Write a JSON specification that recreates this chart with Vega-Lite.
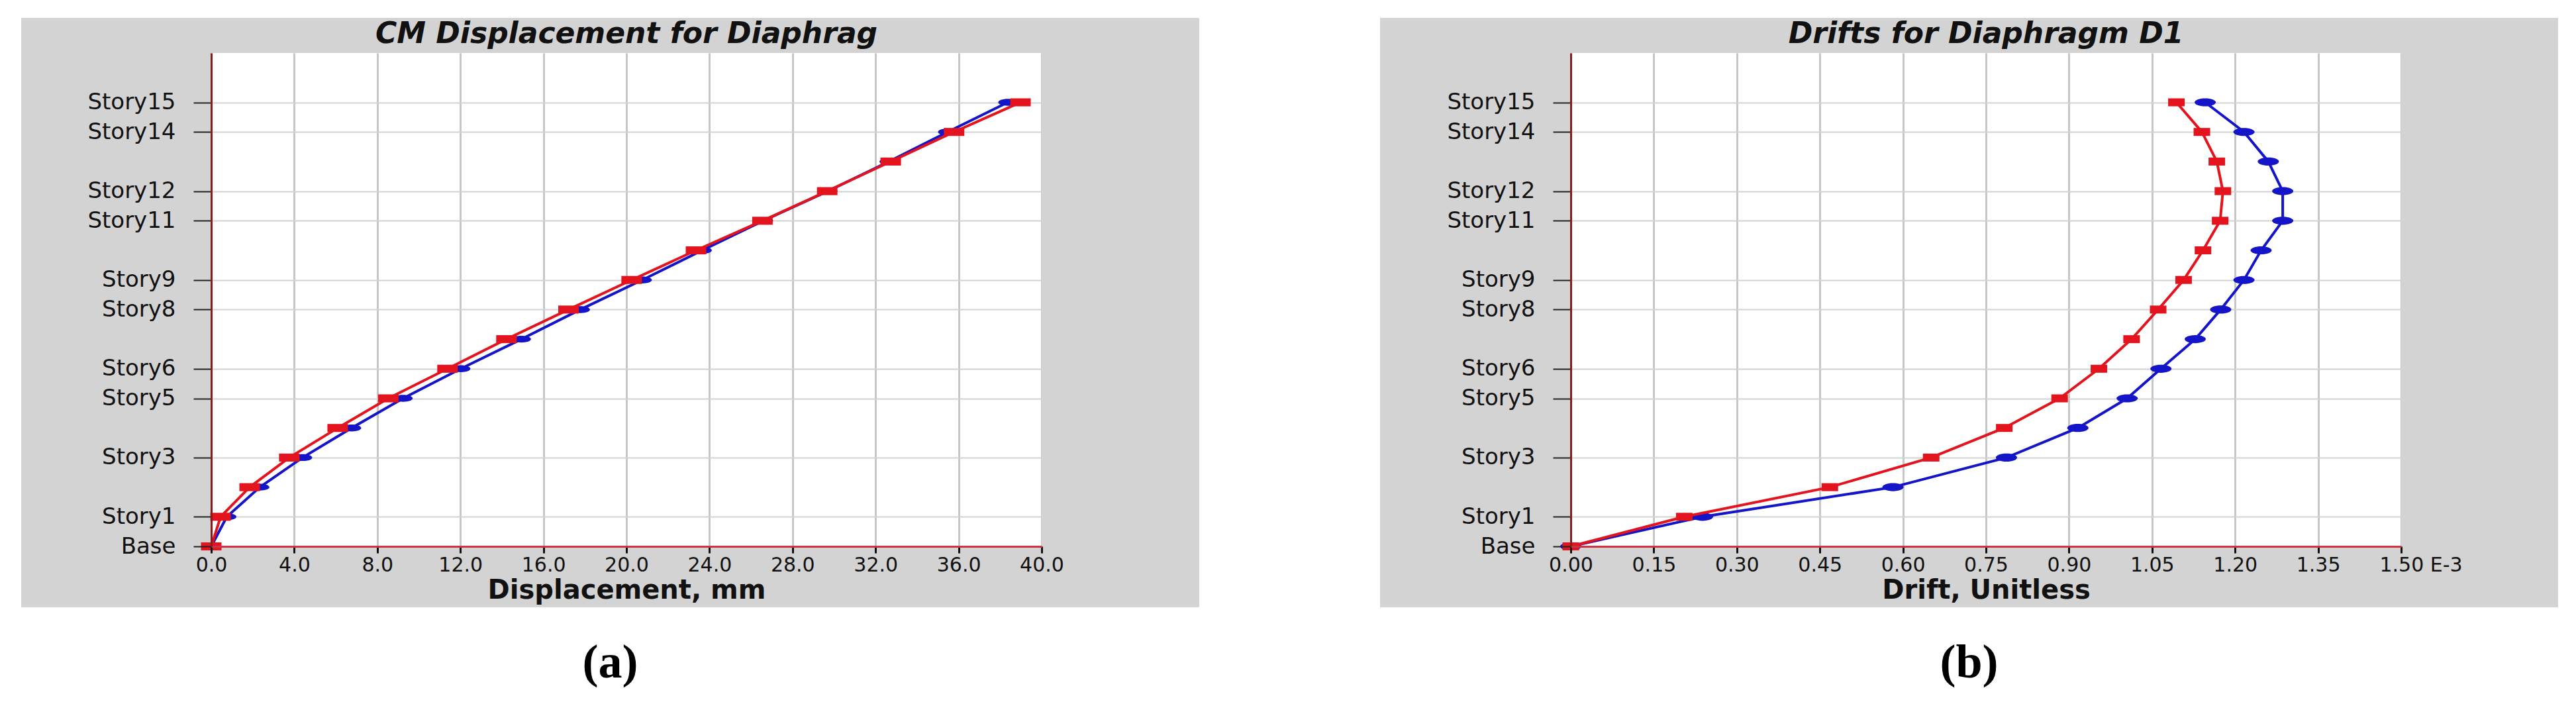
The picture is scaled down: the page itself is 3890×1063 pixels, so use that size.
{
  "$schema": "https://vega.github.io/schema/vega-lite/v6.json",
  "background": "white",
  "padding": {"left": 31, "top": 27, "right": 0, "bottom": 20},
  "spacing": 272,
  "config": {"view": {"stroke": null}},
  "datasets": {
    "disp": [
      {"level": 0, "story": "Base", "dir": "X", "value": 0},
      {"level": 1, "story": "Story1", "dir": "X", "value": 0.75},
      {"level": 2, "story": "Story2", "dir": "X", "value": 2.34},
      {"level": 3, "story": "Story3", "dir": "X", "value": 4.4},
      {"level": 4, "story": "Story4", "dir": "X", "value": 6.76},
      {"level": 5, "story": "Story5", "dir": "X", "value": 9.24},
      {"level": 6, "story": "Story6", "dir": "X", "value": 12.02},
      {"level": 7, "story": "Story7", "dir": "X", "value": 14.94},
      {"level": 8, "story": "Story8", "dir": "X", "value": 17.78},
      {"level": 9, "story": "Story9", "dir": "X", "value": 20.76},
      {"level": 10, "story": "Story10", "dir": "X", "value": 23.65},
      {"level": 11, "story": "Story11", "dir": "X", "value": 26.6},
      {"level": 12, "story": "Story12", "dir": "X", "value": 29.7},
      {"level": 13, "story": "Story13", "dir": "X", "value": 32.65},
      {"level": 14, "story": "Story14", "dir": "X", "value": 35.47},
      {"level": 15, "story": "Story15", "dir": "X", "value": 38.37},
      {"level": 0, "story": "Base", "dir": "Y", "value": 0},
      {"level": 1, "story": "Story1", "dir": "Y", "value": 0.45},
      {"level": 2, "story": "Story2", "dir": "Y", "value": 1.85},
      {"level": 3, "story": "Story3", "dir": "Y", "value": 3.76},
      {"level": 4, "story": "Story4", "dir": "Y", "value": 6.09},
      {"level": 5, "story": "Story5", "dir": "Y", "value": 8.53},
      {"level": 6, "story": "Story6", "dir": "Y", "value": 11.38},
      {"level": 7, "story": "Story7", "dir": "Y", "value": 14.22},
      {"level": 8, "story": "Story8", "dir": "Y", "value": 17.21},
      {"level": 9, "story": "Story9", "dir": "Y", "value": 20.25},
      {"level": 10, "story": "Story10", "dir": "Y", "value": 23.35},
      {"level": 11, "story": "Story11", "dir": "Y", "value": 26.55},
      {"level": 12, "story": "Story12", "dir": "Y", "value": 29.67},
      {"level": 13, "story": "Story13", "dir": "Y", "value": 32.73},
      {"level": 14, "story": "Story14", "dir": "Y", "value": 35.78},
      {"level": 15, "story": "Story15", "dir": "Y", "value": 38.98}
    ],
    "drift": [
      {"level": 0, "story": "Base", "dir": "X", "value": 0},
      {"level": 1, "story": "Story1", "dir": "X", "value": 0.238},
      {"level": 2, "story": "Story2", "dir": "X", "value": 0.582},
      {"level": 3, "story": "Story3", "dir": "X", "value": 0.787},
      {"level": 4, "story": "Story4", "dir": "X", "value": 0.916},
      {"level": 5, "story": "Story5", "dir": "X", "value": 1.005},
      {"level": 6, "story": "Story6", "dir": "X", "value": 1.066},
      {"level": 7, "story": "Story7", "dir": "X", "value": 1.128},
      {"level": 8, "story": "Story8", "dir": "X", "value": 1.174},
      {"level": 9, "story": "Story9", "dir": "X", "value": 1.216},
      {"level": 10, "story": "Story10", "dir": "X", "value": 1.247},
      {"level": 11, "story": "Story11", "dir": "X", "value": 1.286},
      {"level": 12, "story": "Story12", "dir": "X", "value": 1.286},
      {"level": 13, "story": "Story13", "dir": "X", "value": 1.26},
      {"level": 14, "story": "Story14", "dir": "X", "value": 1.216},
      {"level": 15, "story": "Story15", "dir": "X", "value": 1.146},
      {"level": 0, "story": "Base", "dir": "Y", "value": 0},
      {"level": 1, "story": "Story1", "dir": "Y", "value": 0.205},
      {"level": 2, "story": "Story2", "dir": "Y", "value": 0.468},
      {"level": 3, "story": "Story3", "dir": "Y", "value": 0.651},
      {"level": 4, "story": "Story4", "dir": "Y", "value": 0.783},
      {"level": 5, "story": "Story5", "dir": "Y", "value": 0.883},
      {"level": 6, "story": "Story6", "dir": "Y", "value": 0.954},
      {"level": 7, "story": "Story7", "dir": "Y", "value": 1.013},
      {"level": 8, "story": "Story8", "dir": "Y", "value": 1.061},
      {"level": 9, "story": "Story9", "dir": "Y", "value": 1.107},
      {"level": 10, "story": "Story10", "dir": "Y", "value": 1.142},
      {"level": 11, "story": "Story11", "dir": "Y", "value": 1.173},
      {"level": 12, "story": "Story12", "dir": "Y", "value": 1.178},
      {"level": 13, "story": "Story13", "dir": "Y", "value": 1.167},
      {"level": 14, "story": "Story14", "dir": "Y", "value": 1.14},
      {"level": 15, "story": "Story15", "dir": "Y", "value": 1.094}
    ]
  },
  "hconcat": [
    {
      "title": {"text": "(a)", "orient": "bottom", "anchor": "middle", "frame": "bounds", "font": "Liberation Serif", "fontSize": 72, "fontWeight": "bold", "color": "black", "baseline": "top", "offset": 49},
      "vconcat": [
        {
          "width": 1254,
          "height": 745,
          "title": {"text": "CM Displacement for Diaphrag", "font": "DejaVu Sans", "fontSize": 44, "fontWeight": "bold", "fontStyle": "italic", "color": "#111111", "anchor": "middle", "frame": "group", "offset": -82, "baseline": "alphabetic"},
          "resolve": {"axis": {"x": "independent", "y": "independent"}},
          "layer": [
            {
              "data": {"values": [{}]},
              "mark": {"type": "rect", "color": "#d3d3d3"},
              "encoding": {
                "x": {"datum": -9.155, "type": "quantitative", "scale": {"domain": [0, 40], "nice": false, "zero": false}, "axis": null},
                "x2": {"datum": 0},
                "y": {"datum": -2.058, "type": "quantitative", "scale": {"domain": [0, 16.667], "nice": false, "zero": false}, "axis": null},
                "y2": {"datum": 17.852}
              }
            },
            {
              "data": {"values": [{}]},
              "mark": {"type": "rect", "color": "#d3d3d3"},
              "encoding": {
                "x": {"datum": 40, "type": "quantitative", "scale": {"domain": [0, 40], "nice": false, "zero": false}, "axis": null},
                "x2": {"datum": 47.59},
                "y": {"datum": -2.058, "type": "quantitative", "scale": {"domain": [0, 16.667], "nice": false, "zero": false}, "axis": null},
                "y2": {"datum": 17.852}
              }
            },
            {
              "data": {"values": [{}]},
              "mark": {"type": "rect", "color": "#d3d3d3"},
              "encoding": {
                "x": {"datum": 0, "type": "quantitative", "scale": {"domain": [0, 40], "nice": false, "zero": false}, "axis": null},
                "x2": {"datum": 40},
                "y": {"datum": 16.667, "type": "quantitative", "scale": {"domain": [0, 16.667], "nice": false, "zero": false}, "axis": null},
                "y2": {"datum": 17.852}
              }
            },
            {
              "data": {"values": [{}]},
              "mark": {"type": "rect", "color": "#d3d3d3"},
              "encoding": {
                "x": {"datum": 0, "type": "quantitative", "scale": {"domain": [0, 40], "nice": false, "zero": false}, "axis": null},
                "x2": {"datum": 40},
                "y": {"datum": -2.058, "type": "quantitative", "scale": {"domain": [0, 16.667], "nice": false, "zero": false}, "axis": null},
                "y2": {"datum": 0}
              }
            },
            {
              "data": {"name": "disp"},
              "transform": [{"filter": "datum.dir == 'X'"}],
              "mark": {"type": "line", "color": "#1414c8", "strokeWidth": 4},
              "encoding": {
                "x": {"field": "value", "type": "quantitative", "scale": {"domain": [0, 40], "nice": false, "zero": false},
                  "axis": {"orient": "bottom", "grid": true, "domain": false, "ticks": false, "labels": false, "title": null, "values": [0, 4, 8, 12, 16, 20, 24, 28, 32, 36, 40], "gridColor": "#c6c6c6", "gridWidth": 3, "zindex": 0}},
                "y": {"field": "level", "type": "quantitative", "scale": {"domain": [0, 16.667], "nice": false, "zero": false},
                  "axis": {"orient": "left", "grid": true, "domain": false, "ticks": false, "labels": false, "title": null, "values": [0, 1, 3, 5, 6, 8, 9, 11, 12, 14, 15], "gridColor": "#d2d2d2", "gridWidth": 2, "zindex": 0}},
                "order": {"field": "level", "type": "quantitative"}
              }
            },
            {
              "data": {"name": "disp"},
              "transform": [{"filter": "datum.dir == 'X'"}],
              "mark": {"type": "point", "shape": "M-1,0A1,0.36,0,1,0,1,0A1,0.36,0,1,0,-1,0Z", "filled": true, "size": 841, "color": "#1414c8", "opacity": 1},
              "encoding": {
                "x": {"field": "value", "type": "quantitative", "scale": {"domain": [0, 40], "nice": false, "zero": false}, "axis": null},
                "y": {"field": "level", "type": "quantitative", "scale": {"domain": [0, 16.667], "nice": false, "zero": false}, "axis": null}
              }
            },
            {
              "data": {"name": "disp"},
              "transform": [{"filter": "datum.dir == 'Y'"}],
              "mark": {"type": "line", "color": "#e3141e", "strokeWidth": 4},
              "encoding": {
                "x": {"field": "value", "type": "quantitative", "scale": {"domain": [0, 40], "nice": false, "zero": false},
                  "axis": {"orient": "bottom", "grid": false, "values": [0, 4, 8, 12, 16, 20, 24, 28, 32, 36, 40], "format": ".1f", "labelFlush": false, "labelOverlap": false, "domainColor": "#cc3344", "domainWidth": 3, "tickColor": "#111111", "tickWidth": 3, "tickSize": 10, "labelFont": "DejaVu Sans", "labelFontSize": 30, "labelColor": "#111111", "labelPadding": 3, "title": "Displacement, mm", "titleFont": "DejaVu Sans", "titleFontSize": 40, "titleFontWeight": "bold", "titleColor": "#111111", "titleBaseline": "alphabetic", "titlePadding": 35, "zindex": 1}},
                "y": {"field": "level", "type": "quantitative", "scale": {"domain": [0, 16.667], "nice": false, "zero": false},
                  "axis": {"orient": "left", "grid": false, "values": [0, 1, 3, 5, 6, 8, 9, 11, 12, 14, 15], "labelExpr": "datum.value == 0 ? 'Base' : 'Story' + datum.value", "labelOverlap": false, "domainColor": "#8b1a1a", "domainWidth": 3, "tickColor": "#222222", "tickWidth": 2, "tickSize": 27, "labelPadding": 27, "labelFont": "DejaVu Sans", "labelFontSize": 34, "labelColor": "#111111", "title": null, "zindex": 1}},
                "order": {"field": "level", "type": "quantitative"}
              }
            },
            {
              "data": {"name": "disp"},
              "transform": [{"filter": "datum.dir == 'Y'"}],
              "mark": {"type": "point", "shape": "M-1,-0.39L1,-0.39L1,0.39L-1,0.39Z", "filled": true, "size": 961, "color": "#e3141e", "opacity": 1},
              "encoding": {
                "x": {"field": "value", "type": "quantitative", "scale": {"domain": [0, 40], "nice": false, "zero": false}, "axis": null},
                "y": {"field": "level", "type": "quantitative", "scale": {"domain": [0, 16.667], "nice": false, "zero": false}, "axis": null}
              }
            }
          ]
        }
      ]
    },
    {
      "title": {"text": "(b)", "orient": "bottom", "anchor": "middle", "frame": "bounds", "font": "Liberation Serif", "fontSize": 72, "fontWeight": "bold", "color": "black", "baseline": "top", "offset": 49},
      "vconcat": [
        {
          "width": 1254,
          "height": 745,
          "title": {"text": "Drifts for Diaphragm D1", "font": "DejaVu Sans", "fontSize": 44, "fontWeight": "bold", "fontStyle": "italic", "color": "#111111", "anchor": "middle", "frame": "group", "offset": -82, "baseline": "alphabetic"},
          "resolve": {"axis": {"x": "independent", "y": "independent"}},
          "layer": [
            {
              "data": {"values": [{}]},
              "mark": {"type": "rect", "color": "#d3d3d3"},
              "encoding": {
                "x": {"datum": -0.3445, "type": "quantitative", "scale": {"domain": [0, 1.5], "nice": false, "zero": false}, "axis": null},
                "x2": {"datum": 0},
                "y": {"datum": -2.058, "type": "quantitative", "scale": {"domain": [0, 16.667], "nice": false, "zero": false}, "axis": null},
                "y2": {"datum": 17.852}
              }
            },
            {
              "data": {"values": [{}]},
              "mark": {"type": "rect", "color": "#d3d3d3"},
              "encoding": {
                "x": {"datum": 1.5, "type": "quantitative", "scale": {"domain": [0, 1.5], "nice": false, "zero": false}, "axis": null},
                "x2": {"datum": 1.7835},
                "y": {"datum": -2.058, "type": "quantitative", "scale": {"domain": [0, 16.667], "nice": false, "zero": false}, "axis": null},
                "y2": {"datum": 17.852}
              }
            },
            {
              "data": {"values": [{}]},
              "mark": {"type": "rect", "color": "#d3d3d3"},
              "encoding": {
                "x": {"datum": 0, "type": "quantitative", "scale": {"domain": [0, 1.5], "nice": false, "zero": false}, "axis": null},
                "x2": {"datum": 1.5},
                "y": {"datum": 16.667, "type": "quantitative", "scale": {"domain": [0, 16.667], "nice": false, "zero": false}, "axis": null},
                "y2": {"datum": 17.852}
              }
            },
            {
              "data": {"values": [{}]},
              "mark": {"type": "rect", "color": "#d3d3d3"},
              "encoding": {
                "x": {"datum": 0, "type": "quantitative", "scale": {"domain": [0, 1.5], "nice": false, "zero": false}, "axis": null},
                "x2": {"datum": 1.5},
                "y": {"datum": -2.058, "type": "quantitative", "scale": {"domain": [0, 16.667], "nice": false, "zero": false}, "axis": null},
                "y2": {"datum": 0}
              }
            },
            {
              "data": {"name": "drift"},
              "transform": [{"filter": "datum.dir == 'X'"}],
              "mark": {"type": "line", "color": "#1414c8", "strokeWidth": 4},
              "encoding": {
                "x": {"field": "value", "type": "quantitative", "scale": {"domain": [0, 1.5], "nice": false, "zero": false},
                  "axis": {"orient": "bottom", "grid": true, "domain": false, "ticks": false, "labels": false, "title": null, "values": [0, 0.15, 0.3, 0.45, 0.6, 0.75, 0.9, 1.05, 1.2, 1.35, 1.5], "gridColor": "#c6c6c6", "gridWidth": 3, "zindex": 0}},
                "y": {"field": "level", "type": "quantitative", "scale": {"domain": [0, 16.667], "nice": false, "zero": false},
                  "axis": {"orient": "left", "grid": true, "domain": false, "ticks": false, "labels": false, "title": null, "values": [0, 1, 3, 5, 6, 8, 9, 11, 12, 14, 15], "gridColor": "#d2d2d2", "gridWidth": 2, "zindex": 0}},
                "order": {"field": "level", "type": "quantitative"}
              }
            },
            {
              "data": {"name": "drift"},
              "transform": [{"filter": "datum.dir == 'X'"}],
              "mark": {"type": "point", "shape": "M-1,0A1,0.38,0,1,0,1,0A1,0.38,0,1,0,-1,0Z", "filled": true, "size": 1024, "color": "#1414c8", "opacity": 1},
              "encoding": {
                "x": {"field": "value", "type": "quantitative", "scale": {"domain": [0, 1.5], "nice": false, "zero": false}, "axis": null},
                "y": {"field": "level", "type": "quantitative", "scale": {"domain": [0, 16.667], "nice": false, "zero": false}, "axis": null}
              }
            },
            {
              "data": {"name": "drift"},
              "transform": [{"filter": "datum.dir == 'Y'"}],
              "mark": {"type": "line", "color": "#e3141e", "strokeWidth": 4},
              "encoding": {
                "x": {"field": "value", "type": "quantitative", "scale": {"domain": [0, 1.5], "nice": false, "zero": false},
                  "axis": {"orient": "bottom", "grid": false, "values": [0, 0.15, 0.3, 0.45, 0.6, 0.75, 0.9, 1.05, 1.2, 1.35, 1.5], "labelExpr": "datum.value >= 1.5 ? format(datum.value, '.2f') + ' E-3' : format(datum.value, '.2f')", "labelAlign": {"condition": {"test": "datum.value >= 1.5", "value": "left"}, "value": "center"}, "labelOffset": {"condition": {"test": "datum.value >= 1.5", "value": -33}, "value": 0}, "labelFlush": false, "labelOverlap": false, "domainColor": "#cc3344", "domainWidth": 3, "tickColor": "#111111", "tickWidth": 3, "tickSize": 10, "labelFont": "DejaVu Sans", "labelFontSize": 30, "labelColor": "#111111", "labelPadding": 3, "title": "Drift, Unitless", "titleFont": "DejaVu Sans", "titleFontSize": 40, "titleFontWeight": "bold", "titleColor": "#111111", "titleBaseline": "alphabetic", "titlePadding": 35, "zindex": 1}},
                "y": {"field": "level", "type": "quantitative", "scale": {"domain": [0, 16.667], "nice": false, "zero": false},
                  "axis": {"orient": "left", "grid": false, "values": [0, 1, 3, 5, 6, 8, 9, 11, 12, 14, 15], "labelExpr": "datum.value == 0 ? 'Base' : 'Story' + datum.value", "labelOverlap": false, "domainColor": "#8b1a1a", "domainWidth": 3, "tickColor": "#222222", "tickWidth": 2, "tickSize": 27, "labelPadding": 27, "labelFont": "DejaVu Sans", "labelFontSize": 34, "labelColor": "#111111", "title": null, "zindex": 1}},
                "order": {"field": "level", "type": "quantitative"}
              }
            },
            {
              "data": {"name": "drift"},
              "transform": [{"filter": "datum.dir == 'Y'"}],
              "mark": {"type": "point", "shape": "M-1,-0.48L1,-0.48L1,0.48L-1,0.48Z", "filled": true, "size": 625, "color": "#e3141e", "opacity": 1},
              "encoding": {
                "x": {"field": "value", "type": "quantitative", "scale": {"domain": [0, 1.5], "nice": false, "zero": false}, "axis": null},
                "y": {"field": "level", "type": "quantitative", "scale": {"domain": [0, 16.667], "nice": false, "zero": false}, "axis": null}
              }
            }
          ]
        }
      ]
    }
  ]
}
